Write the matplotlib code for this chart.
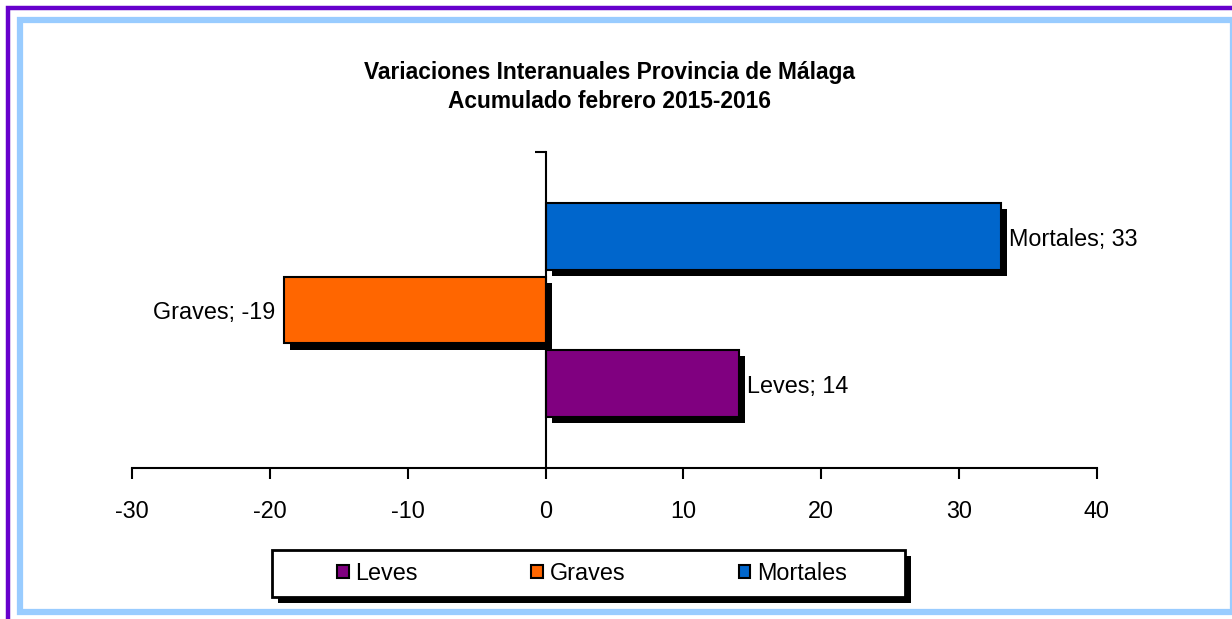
import matplotlib
matplotlib.use("Agg")
import matplotlib.pyplot as plt
import matplotlib.patheffects as pe
from matplotlib.patches import Rectangle, Patch

plt.rcParams['font.family'] = ['Liberation Sans', 'DejaVu Sans']

title = "Variaciones Interanuales Provincia de Málaga\nAcumulado febrero 2015-2016"
series = ["Leves", "Graves", "Mortales"]
values = [14, -19, 33]
colors = ["#800080", "#FF6600", "#0066CC"]
positions = [-1, 0, 1]
xticks = [-30, -20, -10, 0, 10, 20, 30, 40]

W, H = 1232, 619
fig = plt.figure(figsize=(W / 100, H / 100), dpi=100)

# background frame
bg = fig.add_axes([0, 0, 1, 1], zorder=-10)
bg.set_xlim(0, W)
bg.set_ylim(H, 0)
bg.axis('off')
bg.plot([7.5, 7.5, W + 5], [H + 5, 7.5, 7.5], color="#6600CC", lw=3.2,
        solid_capstyle='butt', solid_joinstyle='miter')
bg.add_patch(Rectangle((19.5, 19.5), W - 19.5 + 1.0, 611.5 - 19.5, fill=False,
                       edgecolor="#99CCFF", lw=4.5, joinstyle='miter'))

shadow_fx = [pe.SimplePatchShadow(offset=(4.5, -4.5), shadow_rgbFace='black', alpha=1.0), pe.Normal()]

# legend frame
bg.add_patch(Rectangle((272, 550), 633, 47, facecolor='white', edgecolor='black',
                       lw=2, path_effects=shadow_fx))

ax = fig.add_axes([132 / W, 1 - 468 / H, 965 / W, 316 / H])
for name, v, c, p in zip(series, values, colors, positions):
    b = ax.barh(p, v, height=0.91, color=c, edgecolor='black', linewidth=1.5, zorder=3)
    for r in b:
        r.set_path_effects(shadow_fx)
    if v >= 0:
        ax.text(v + 0.6, p - 0.04, f"{name}; {v}", ha='left', va='center', fontsize=16.8, zorder=5)
    else:
        ax.text(v - 0.6, p - 0.04, f"{name}; {v}", ha='right', va='center', fontsize=16.8, zorder=5)

ax.set_xlim(-30, 40)
ax.set_ylim(-2.15, 2.15)
ax.set_xticks(xticks)
ax.set_xticklabels([str(t) for t in xticks], fontsize=16.8)
ax.set_yticks([2.15])
ax.set_yticklabels([])
ax.tick_params(axis='x', direction='out', length=8, width=1.5, pad=15)
ax.tick_params(axis='y', direction='out', length=8, width=1.5)
for s in ['top', 'right']:
    ax.spines[s].set_visible(False)
ax.spines['left'].set_position(('data', 0))
ax.spines['left'].set_linewidth(1.5)
ax.spines['bottom'].set_linewidth(1.5)
ax.spines['left'].set_zorder(6)

fig.text(610 / W, 1 - 87 / H, title, ha='center', va='center', fontsize=16.4,
         fontweight='bold', linespacing=1.3)

handles = [Patch(facecolor=c, edgecolor='black', linewidth=1.5) for c in colors]
leg = fig.legend(handles, series, loc='center', ncol=3,
                 bbox_to_anchor=(592 / W, 1 - 573 / H),
                 fontsize=16.8, frameon=False, handlelength=0.5,
                 handleheight=0.5, handletextpad=0.3, columnspacing=4.85)

fig.savefig("out.png", dpi=100)
